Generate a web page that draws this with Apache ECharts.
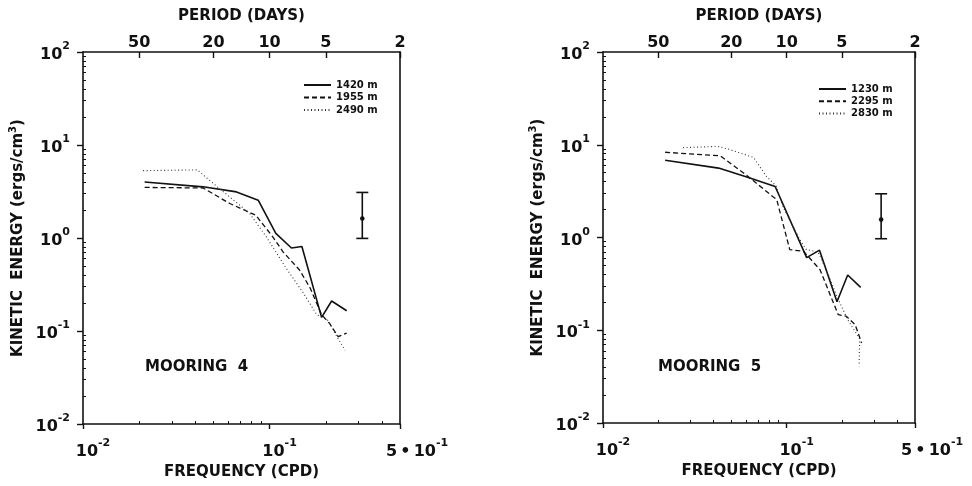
<!DOCTYPE html>
<html>
<head>
<meta charset="utf-8">
<script src="https://cdn.jsdelivr.net/npm/echarts@6/dist/echarts.min.js"></script>
<style>
  html, body { margin: 0; padding: 0; background: #fff; }
  #chart { width: 972px; height: 486px; }
</style>
</head>
<body>
<div id="chart"></div>
<script>
// Kinetic energy spectra (ergs/cm^3) versus frequency (cycles per day)

// Mooring 4
const m4Freq1420 = [0.0214, 0.044, 0.0665, 0.0869, 0.108, 0.131, 0.149, 0.19, 0.215, 0.259];
const m4Ke1420   = [4.0, 3.55, 3.13, 2.55, 1.12, 0.78, 0.81, 0.14, 0.21, 0.165];
const m4Freq1955 = [0.0214, 0.044, 0.0612, 0.0843, 0.104, 0.118, 0.145, 0.165, 0.19, 0.21, 0.233, 0.259];
const m4Ke1955   = [3.5, 3.45, 2.35, 1.76, 1.03, 0.71, 0.45, 0.29, 0.15, 0.12, 0.087, 0.095];
const m4Freq2490 = [0.021, 0.041, 0.052, 0.078, 0.096, 0.123, 0.151, 0.179, 0.206, 0.229, 0.254];
const m4Ke2490   = [5.3, 5.4, 3.6, 1.85, 1.03, 0.47, 0.26, 0.15, 0.13, 0.088, 0.062];

// Mooring 5
const m5Freq1230 = [0.0218, 0.0426, 0.0607, 0.0866, 0.1285, 0.151, 0.188, 0.215, 0.253];
const m5Ke1230   = [6.8, 5.6, 4.5, 3.55, 0.607, 0.73, 0.203, 0.394, 0.29];
const m5Freq2295 = [0.0218, 0.0435, 0.0617, 0.0839, 0.0883, 0.104, 0.1235, 0.152, 0.177, 0.191, 0.211, 0.236, 0.256];
const m5Ke2295   = [8.3, 7.6, 4.55, 2.77, 2.57, 0.74, 0.71, 0.45, 0.213, 0.147, 0.142, 0.115, 0.073];
const m5Freq2830 = [0.0273, 0.0422, 0.048, 0.066, 0.0774, 0.0875, 0.096, 0.118, 0.128, 0.148, 0.166, 0.19, 0.215, 0.23, 0.25, 0.248];
const m5Ke2830   = [9.3, 9.6, 9.0, 7.3, 4.6, 3.6, 2.1, 0.95, 0.74, 0.70, 0.43, 0.22, 0.13, 0.105, 0.08, 0.041];

// Confidence bars (one per mooring)
const errFreq = [0.314, 0.327];
const errLow  = [0.99, 0.97];
const errMid  = [1.62, 1.56];
const errHigh = [3.09, 2.96];

// Axis tick values
const freqTicks   = [0.01, 0.1, 0.5];
const periodTicks = [50, 20, 10, 5, 2];
const keDecades   = [-2, -1, 0, 1, 2];

const INK = '#111';
const FONT = 'DejaVu Sans';
const lg = Math.log10;

const xMin = lg(0.01), xMax = lg(0.5);

// log-spaced minor ticks
const xMinor = [];
for (let k = 2; k <= 9; k++) xMinor.push(lg(k * 0.01));
for (let k = 2; k <= 4; k++) xMinor.push(lg(k * 0.1));
const yMinor = [];
for (let d = -2; d <= 1; d++) for (let k = 2; k <= 9; k++) yMinor.push(lg(k * Math.pow(10, d)));

const rich = {
  b: { fontFamily: FONT, fontWeight: 'bold', fontSize: 16, color: INK, lineHeight: 22, verticalAlign: 'bottom' },
  c: { fontFamily: FONT, fontWeight: 'bold', fontSize: 16, color: INK, lineHeight: 22, verticalAlign: 'bottom', padding: [0, 0, 0, 14] },
  s: { fontFamily: FONT, fontWeight: 'bold', fontSize: 11, color: INK, lineHeight: 12, verticalAlign: 'top' }
};

function pairs(fs, es) { return fs.map((f, i) => [lg(f), lg(es[i])]); }

function xLabel(v) {
  if (Math.abs(v + 2) < 1e-6) return '{b|10}{s|-2}';
  if (Math.abs(v + 1) < 1e-6) return '{b|10}{s|-1}';
  return '{c|5\u2009•\u200910}{s|-1}';
}
function yLabel(v) { return '{b|10}{s|' + Math.round(v) + '}'; }

const lineAxis = { onZero: false, lineStyle: { color: INK, width: 1.6 } };
const noLine = { show: false, onZero: false };

function panelAxes(gi, yNameGap) {
  const xs = [
    { // frequency axis with major ticks and labels
      type: 'value', gridIndex: gi, position: 'bottom', min: xMin, max: xMax,
      axisLine: lineAxis, splitLine: { show: false },
      axisTick: { customValues: freqTicks.map(lg), length: 5, lineStyle: { color: INK, width: 1.4 } },
      axisLabel: { customValues: freqTicks.map(lg), formatter: xLabel, rich: rich, margin: 14, padding: [0, 0, 0, 20] },
      name: 'FREQUENCY (CPD)', nameLocation: 'middle', nameGap: 41,
      nameTextStyle: { fontFamily: FONT, fontWeight: 'bold', fontSize: 15, color: INK }
    },
    { // minor log ticks on the frequency axis
      type: 'value', gridIndex: gi, position: 'bottom', min: xMin, max: xMax,
      axisLine: noLine, splitLine: { show: false }, axisLabel: { show: false },
      axisTick: { inside: true, customValues: xMinor, length: 3, lineStyle: { color: INK, width: 1 } }
    },
    { // period axis on top
      type: 'value', gridIndex: gi, position: 'top', min: xMin, max: xMax,
      axisLine: lineAxis, splitLine: { show: false },
      axisTick: { inside: true, customValues: periodTicks.map(p => lg(1 / p)), length: 6, lineStyle: { color: INK, width: 1.4 } },
      axisLabel: {
        customValues: periodTicks.map(p => lg(1 / p)), margin: 1,
        formatter: v => String(Math.round(1 / Math.pow(10, v))),
        fontFamily: FONT, fontWeight: 'bold', fontSize: 16, color: INK
      },
      name: 'PERIOD (DAYS)', nameLocation: 'middle', nameGap: 28,
      nameTextStyle: { fontFamily: FONT, fontWeight: 'bold', fontSize: 15, color: INK }
    }
  ];
  const ys = [
    { // kinetic energy axis with decades
      type: 'value', gridIndex: gi, position: 'left', min: -2, max: 2,
      axisLine: lineAxis, splitLine: { show: false },
      axisTick: { customValues: keDecades, length: 6, lineStyle: { color: INK, width: 1.4 } },
      axisLabel: { customValues: keDecades, formatter: yLabel, rich: rich, margin: 13 },
      name: '{t|KINETIC  ENERGY (ergs/cm}{u|3}{t|)}', nameLocation: 'middle', nameRotate: 90, nameGap: yNameGap,
      nameTextStyle: {
        rich: {
          t: { fontFamily: FONT, fontWeight: 'bold', fontSize: 15, color: INK, lineHeight: 18, verticalAlign: 'bottom' },
          u: { fontFamily: FONT, fontWeight: 'bold', fontSize: 10, color: INK, lineHeight: 12, verticalAlign: 'top' }
        }
      }
    },
    { // minor log ticks on the energy axis
      type: 'value', gridIndex: gi, position: 'left', min: -2, max: 2,
      axisLine: noLine, splitLine: { show: false }, axisLabel: { show: false },
      axisTick: { inside: true, customValues: yMinor, length: 3, lineStyle: { color: INK, width: 1 } }
    },
    { // right frame edge
      type: 'value', gridIndex: gi, position: 'right', min: -2, max: 2,
      axisLine: lineAxis, splitLine: { show: false }, axisLabel: { show: false }, axisTick: { show: false }
    }
  ];
  return { xs, ys };
}

const p0 = panelAxes(0, 57);
const p1 = panelAxes(1, 57);

const styles = {
  solid:  { color: INK, width: 1.6, type: 'solid' },
  dashed: { color: INK, width: 1.3, type: [5, 3] },
  dotted: { color: '#333', width: 1.1, type: [1, 2.5] }
};

function lineSeries(name, fs, es, style, axisIdx) {
  return {
    type: 'line', name: name, data: pairs(fs, es),
    xAxisIndex: axisIdx.x, yAxisIndex: axisIdx.y,
    symbol: 'none', showSymbol: false, lineStyle: style, itemStyle: { color: style.color },
    silent: true, z: 3
  };
}

function errorSeries(i, axisIdx) {
  return {
    type: 'custom', xAxisIndex: axisIdx.x, yAxisIndex: axisIdx.y, silent: true, z: 4,
    data: [[lg(errFreq[i]), lg(errLow[i]), lg(errMid[i]), lg(errHigh[i])]],
    renderItem: function (params, api) {
      const x = api.value(0);
      const lo = api.coord([x, api.value(1)]);
      const mid = api.coord([x, api.value(2)]);
      const hi = api.coord([x, api.value(3)]);
      const st = { stroke: INK, lineWidth: 1.6 };
      const cap = 6;
      return {
        type: 'group',
        children: [
          { type: 'line', shape: { x1: hi[0], y1: hi[1], x2: lo[0], y2: lo[1] }, style: st },
          { type: 'line', shape: { x1: hi[0] - cap, y1: hi[1], x2: hi[0] + cap, y2: hi[1] }, style: st },
          { type: 'line', shape: { x1: lo[0] - cap, y1: lo[1], x2: lo[0] + cap, y2: lo[1] }, style: st },
          { type: 'circle', shape: { cx: mid[0], cy: mid[1], r: 2.3 }, style: { fill: INK } }
        ]
      };
    }
  };
}

const a0 = { x: 0, y: 0 };
const a1 = { x: 3, y: 3 };

const legendText = { fontFamily: FONT, fontWeight: 'bold', fontSize: 10, color: INK, lineHeight: 12 };
const legendBase = {
  orient: 'vertical', itemWidth: 27, itemHeight: 8, padding: 0,
  textStyle: legendText, selectedMode: false,
  itemStyle: { opacity: 0 }
};

const option = {
  animation: false,
  backgroundColor: '#fff',
  grid: [
    { left: 83, top: 52, width: 317, height: 372 },
    { left: 603, top: 52, width: 312, height: 371 }
  ],
  xAxis: p0.xs.concat(p1.xs),
  yAxis: p0.ys.concat(p1.ys),
  title: [
    { text: 'MOORING  4', left: 145, top: 360, padding: 0,
      textStyle: { fontFamily: FONT, fontWeight: 'bold', fontSize: 15, color: INK } },
    { text: 'MOORING  5', left: 658, top: 360, padding: 0,
      textStyle: { fontFamily: FONT, fontWeight: 'bold', fontSize: 15, color: INK } }
  ],
  legend: [
    Object.assign({ data: ['1420 m', '1955 m', '2490 m'], left: 303, top: 79, itemGap: 0.5 }, legendBase),
    Object.assign({ data: ['1230 m', '2295 m', '2830 m'], left: 818, top: 83, itemGap: 0.2 }, legendBase)
  ],
  series: [
    lineSeries('1420 m', m4Freq1420, m4Ke1420, styles.solid, a0),
    lineSeries('1955 m', m4Freq1955, m4Ke1955, styles.dashed, a0),
    lineSeries('2490 m', m4Freq2490, m4Ke2490, styles.dotted, a0),
    errorSeries(0, a0),
    lineSeries('1230 m', m5Freq1230, m5Ke1230, styles.solid, a1),
    lineSeries('2295 m', m5Freq2295, m5Ke2295, styles.dashed, a1),
    lineSeries('2830 m', m5Freq2830, m5Ke2830, styles.dotted, a1),
    errorSeries(1, a1)
  ]
};

const chart = echarts.init(document.getElementById('chart'), null, { renderer: 'canvas' });
chart.setOption(option);
</script>
</body>
</html>
